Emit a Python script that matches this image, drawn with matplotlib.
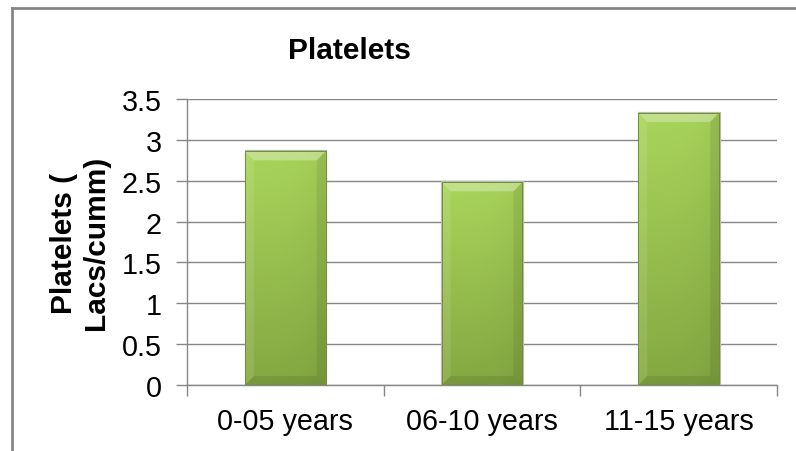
import numpy as np
import matplotlib
matplotlib.use("Agg")
import matplotlib.pyplot as plt
from matplotlib.colors import to_rgb
from matplotlib.patches import Polygon
from matplotlib.lines import Line2D

plt.rcParams['font.family'] = ['Liberation Sans', 'DejaVu Sans']

# platelet counts by age group
age_groups = ["0-05 years", "06-10 years", "11-15 years"]
platelets = [2.86, 2.48, 3.33]
y_ticks = [0, 0.5, 1, 1.5, 2, 2.5, 3, 3.5]
y_tick_labels = ["0", "0.5", "1", "1.5", "2", "2.5", "3", "3.5"]

GRID = "#868686"
TOP_GREEN = to_rgb("#a9d55b")
BOT_GREEN = to_rgb("#84a842")
EDGE_GREEN = "#6f8f32"

fig = plt.figure(figsize=(7.96, 4.52), dpi=100)
ax = fig.add_axes([187/796, 66/452, 590/796, 286/452])

x = np.arange(len(age_groups))
bars = ax.bar(x, platelets, width=0.41, color="none", edgecolor="none", zorder=3)

ax.set_xlim(-0.5, len(age_groups) - 0.5)
ax.set_ylim(0, 3.5)

# gradient fill + bevel for each bar, excel style
for rect in bars:
    x0, y0 = rect.get_x(), rect.get_y()
    w, h = rect.get_width(), rect.get_height()
    ny, nx = 200, 60
    t = np.linspace(1, 0, ny)[:, None, None]
    img = np.array(BOT_GREEN) + (np.array(TOP_GREEN) - np.array(BOT_GREEN)) * t
    img = np.repeat(img, nx, axis=1)
    s = np.linspace(0, 1, nx)[None, :, None]
    img = img * (1 - 0.05 * s ** 3)
    im = ax.imshow(img, extent=[x0, x0 + w, y0, y0 + h], aspect="auto",
                   origin="upper", zorder=3, interpolation="bilinear")
    im.set_clip_path(rect)

    bx, by = 0.045, 0.11
    top = Polygon([(x0, y0 + h), (x0 + w, y0 + h), (x0 + w - bx, y0 + h - by),
                   (x0 + bx, y0 + h - by)], closed=True,
                  facecolor="white", alpha=0.30, edgecolor="none", zorder=4)
    bottom = Polygon([(x0, y0), (x0 + w, y0), (x0 + w - bx, y0 + by),
                      (x0 + bx, y0 + by)], closed=True,
                     facecolor="black", alpha=0.09, edgecolor="none", zorder=4)
    left = Polygon([(x0, y0), (x0 + bx, y0 + by), (x0 + bx, y0 + h - by),
                    (x0, y0 + h)], closed=True,
                   facecolor="white", alpha=0.10, edgecolor="none", zorder=4)
    right = Polygon([(x0 + w, y0), (x0 + w - bx, y0 + by), (x0 + w - bx, y0 + h - by),
                     (x0 + w, y0 + h)], closed=True,
                    facecolor="black", alpha=0.07, edgecolor="none", zorder=4)
    for p in (top, bottom, left, right):
        ax.add_patch(p)
    ax.add_patch(plt.Rectangle((x0, y0), w, h, facecolor="none",
                               edgecolor=EDGE_GREEN, lw=0.7, zorder=5))
    # soft gray shadow
    ax.add_patch(plt.Rectangle((x0 + 0.004, y0), w, h, facecolor="none",
                               edgecolor="#b8b8b8", lw=1.6, zorder=2.9))

ax.set_yticks(y_ticks)
ax.set_yticklabels(y_tick_labels, fontsize=20.7)
ax.set_xticks(x)
ax.set_xticklabels(age_groups, fontsize=20.7)
ax.set_xticks(np.arange(len(age_groups) + 1) - 0.5, minor=True)
ax.tick_params(axis="x", which="major", length=0, pad=16)
ax.tick_params(axis="x", which="minor", length=8, color=GRID, width=1)
ax.tick_params(axis="y", length=8, color=GRID, width=1, pad=10)

ax.grid(axis="y", color=GRID, lw=1, zorder=0)
ax.set_axisbelow(True)
for side in ("top", "right"):
    ax.spines[side].set_visible(False)
for side in ("left", "bottom"):
    ax.spines[side].set_color(GRID)
    ax.spines[side].set_linewidth(1)

fig.text(349/796, (452 - 59)/452, "Platelets", fontsize=21.5, fontweight="bold",
         ha="center", va="baseline")
fig.text(80/796, (452 - 243)/452, "Platelets (\nLacs/cumm)", fontsize=21.5,
         fontweight="bold", rotation=90, ha="center", va="center",
         multialignment="center", linespacing=1.15)

# outer chart frame
fig.add_artist(Line2D([12/796, 12/796], [0, 1 - 9/452], color=GRID, lw=2,
                      transform=fig.transFigure))
fig.add_artist(Line2D([12/796, 1], [1 - 9/452, 1 - 9/452], color=GRID, lw=2,
                      transform=fig.transFigure))

fig.savefig("out.png", dpi=100)
